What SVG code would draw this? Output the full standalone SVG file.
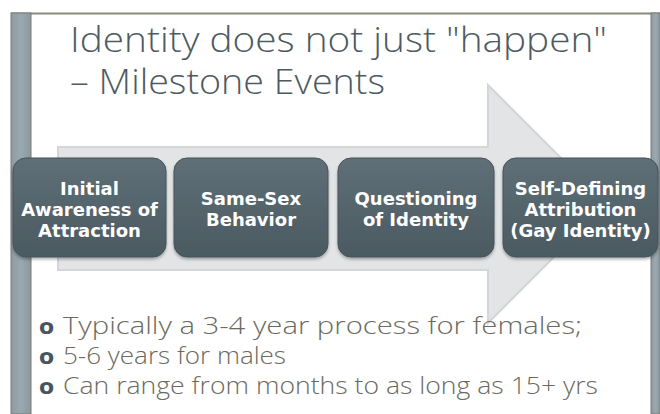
<svg xmlns="http://www.w3.org/2000/svg" width="660" height="414" viewBox="0 0 660 414">
<defs>
<linearGradient id="boxg" x1="0" y1="0" x2="0" y2="1">
<stop offset="0" stop-color="#5f6f77"/>
<stop offset="1" stop-color="#4b5a61"/>
</linearGradient>
<linearGradient id="barg" x1="0" y1="0" x2="1" y2="0">
<stop offset="0" stop-color="#8d9ca4"/>
<stop offset="0.5" stop-color="#9aa9b0"/>
<stop offset="1" stop-color="#8a989f"/>
</linearGradient>
<filter id="sh" x="-10%" y="-10%" width="120%" height="130%">
<feDropShadow dx="0" dy="2" stdDeviation="1.5" flood-color="#000" flood-opacity="0.3"/>
</filter>
</defs>
<style>
.title{font-family:"Open Sans","Liberation Sans",sans-serif;font-size:34px;font-weight:300;fill:#4e5a61;}
.bul{font-family:"Open Sans","Liberation Sans",sans-serif;font-size:23px;font-weight:300;fill:#6a6a5e;}
.mark{font-family:"DejaVu Sans",sans-serif;font-size:22px;font-weight:bold;fill:#465560;}
.box{fill:url(#boxg);stroke:#46545b;stroke-width:1;filter:url(#sh);}
.bt{font-family:"DejaVu Sans","Liberation Sans",sans-serif;font-size:18px;font-weight:bold;fill:#ffffff;text-anchor:middle;}
</style>
<rect width="660" height="414" fill="#ffffff"/>
<!-- slide frame -->
<rect x="11" y="13" width="649" height="401" fill="#ffffff"/>
<line x1="11" y1="13.5" x2="660" y2="13.5" stroke="#8a8a7e" stroke-width="2"/>
<rect x="11" y="13" width="20" height="401" fill="url(#barg)" stroke="#7b7b70" stroke-width="1"/>
<rect x="651" y="13" width="9" height="401" fill="url(#barg)" stroke="#7b7b70" stroke-width="1"/>
<!-- title -->
<g id="title">
<text class="title" x="70" y="52" textLength="537" lengthAdjust="spacingAndGlyphs">Identity does not just "happen"</text>
<text class="title" x="70" y="94" textLength="315" lengthAdjust="spacingAndGlyphs">– Milestone Events</text>
</g>
<!-- big arrow -->
<g id="arrow">
<polygon points="58,147 488,147 488,85 607,204 488,323 488,270 58,270" fill="#e3e4e6" stroke="#d4d5d8" stroke-width="2"/>
</g>
<!-- boxes -->
<g id="node1">
<rect class="box" x="13" y="158" width="153" height="99" rx="13"/>
<text class="bt" x="89.5" y="195">Initial</text>
<text class="bt" x="89.5" y="216">Awareness of</text>
<text class="bt" x="89.5" y="237">Attraction</text>
</g>
<g id="node2">
<rect class="box" x="174" y="158" width="154" height="99" rx="13"/>
<text class="bt" x="251" y="205">Same-Sex</text>
<text class="bt" x="251" y="226">Behavior</text>
</g>
<g id="node3">
<rect class="box" x="338" y="158" width="156" height="99" rx="13"/>
<text class="bt" x="416" y="205">Questioning</text>
<text class="bt" x="416" y="226">of Identity</text>
</g>
<g id="node4">
<rect class="box" x="503" y="158" width="155" height="99" rx="13"/>
<text class="bt" x="580.5" y="195">Self-Defining</text>
<text class="bt" x="580.5" y="216">Attribution</text>
<text class="bt" x="580.5" y="237">(Gay Identity)</text>
</g>
<!-- bullets -->
<g id="bullets">
<text class="mark" x="39" y="334">o</text>
<text class="bul" x="63" y="334" textLength="519" lengthAdjust="spacingAndGlyphs">Typically a 3-4 year process for females;</text>
<text class="mark" x="39" y="364">o</text>
<text class="bul" x="63" y="364" textLength="223" lengthAdjust="spacingAndGlyphs">5-6 years for males</text>
<text class="mark" x="39" y="394">o</text>
<text class="bul" x="63" y="394" textLength="535" lengthAdjust="spacingAndGlyphs">Can range from months to as long as 15+ yrs</text>
</g>
</svg>
